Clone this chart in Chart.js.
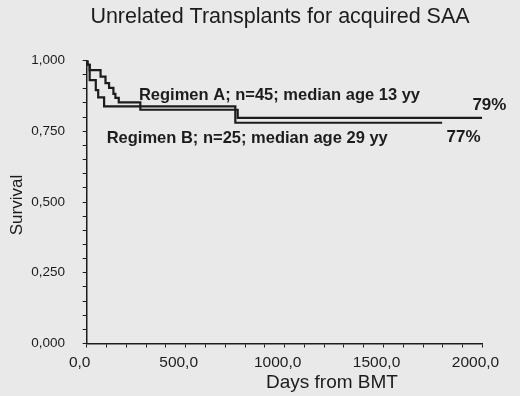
<!DOCTYPE html>
<html>
<head>
<meta charset="utf-8">
<script src="https://cdn.jsdelivr.net/npm/chart.js@4"></script>
<style>
  html, body { margin: 0; padding: 0; background: #e9e9e9; }
  #wrap { width: 520px; height: 396px; }
</style>
</head>
<body>
<div id="wrap"><canvas id="km" width="520" height="396"></canvas></div>
<script>
const TITLE = "Unrelated Transplants for acquired SAA";
const X_TITLE = "Days from BMT";
const Y_TITLE = "Survival";

// Kaplan-Meier steps (days, survival)
const daysA = [0, 4, 15, 70, 95, 113, 135, 145, 162, 271, 763, 1998];
const survA = [1.0, 0.985, 0.966, 0.943, 0.920, 0.903, 0.882, 0.868, 0.852, 0.826, 0.797, 0.797];
const daysB = [0, 4, 15, 46, 58, 88, 751, 1796];
const survB = [1.0, 0.985, 0.931, 0.895, 0.870, 0.838, 0.780, 0.780];

const labelA = "Regimen A; n=45; median age 13 yy";
const labelB = "Regimen B; n=25; median age 29 yy";
const endA = "79%";
const endB = "77%";

const FONT = "'Liberation Sans', Arial, sans-serif";
const INK = "#1c1c1c";

const toPoints = (xs, ys) => xs.map((x, i) => ({ x: x, y: ys[i] }));
const comma = (v, d) => v.toFixed(d).replace(".", ",");

// text placed in data coordinates: [text, day, survival, bold, size]
const notes = [
  [labelA, 264, 0.878, true, 16.5],
  [labelB, 101, 0.723, true, 16.5],
  [endA, 1949, 0.843, true, 17],
  [endB, 1818, 0.728, true, 17]
];

const textPlugin = {
  id: "texts",
  afterDraw(chart) {
    const { ctx, scales: { x, y } } = chart;
    ctx.save();
    ctx.fillStyle = INK;
    ctx.textBaseline = "middle";

    ctx.font = `21.5px ${FONT}`;
    ctx.textAlign = "center";
    ctx.fillText(TITLE, 280, 17);

    ctx.font = `19px ${FONT}`;
    ctx.fillText(X_TITLE, 332, 383);

    ctx.save();
    ctx.translate(17, 205);
    ctx.rotate(-Math.PI / 2);
    ctx.font = `17px ${FONT}`;
    ctx.fillText(Y_TITLE, 0, 0);
    ctx.restore();

    ctx.textAlign = "left";
    notes.forEach(([t, dx, sy, bold, size]) => {
      ctx.font = `${bold ? "bold " : ""}${size}px ${FONT}`;
      ctx.fillText(t, x.getPixelForValue(dx), y.getPixelForValue(sy));
    });
    ctx.restore();
  }
};

const lineStyle = {
  stepped: "before",
  borderColor: INK,
  borderWidth: 2.2,
  pointRadius: 0,
  fill: false
};

new Chart(document.getElementById("km"), {
  type: "line",
  data: {
    datasets: [
      { label: "A", data: toPoints(daysA, survA), ...lineStyle },
      { label: "B", data: toPoints(daysB, survB), ...lineStyle }
    ]
  },
  options: {
    responsive: false,
    animation: false,
    layout: { padding: { left: 0, right: 37.5, top: 60.5, bottom: 0 } },
    plugins: { legend: { display: false }, tooltip: { enabled: false }, title: { display: false } },
    scales: {
      x: {
        type: "linear",
        min: 0,
        max: 2000,
        afterFit: s => { s.height = 52.5; },
        grid: { display: true, drawOnChartArea: false, drawTicks: true, tickLength: 4, color: INK, lineWidth: 1 },
        border: { display: true, color: INK, width: 1.5 },
        ticks: {
          stepSize: 100,
          autoSkip: false,
          maxRotation: 0,
          padding: 5.7,
          labelOffset: -7,
          color: INK,
          font: { family: FONT, size: 15.5 },
          callback: v => (v % 500 === 0 ? comma(v, 1) : "")
        }
      },
      y: {
        min: 0,
        max: 1,
        afterFit: s => { s.width = 86.7; },
        grid: { display: true, drawOnChartArea: false, drawTicks: true, tickLength: 4, color: INK, lineWidth: 1 },
        border: { display: true, color: INK, width: 1.5 },
        ticks: {
          stepSize: 0.05,
          autoSkip: false,
          padding: 17.7,
          color: INK,
          font: { family: FONT, size: 13.5 },
          callback: v => (Math.abs(v * 4 - Math.round(v * 4)) < 1e-6 ? comma(v, 3) : "")
        }
      }
    }
  },
  plugins: [textPlugin]
});
</script>
</body>
</html>
